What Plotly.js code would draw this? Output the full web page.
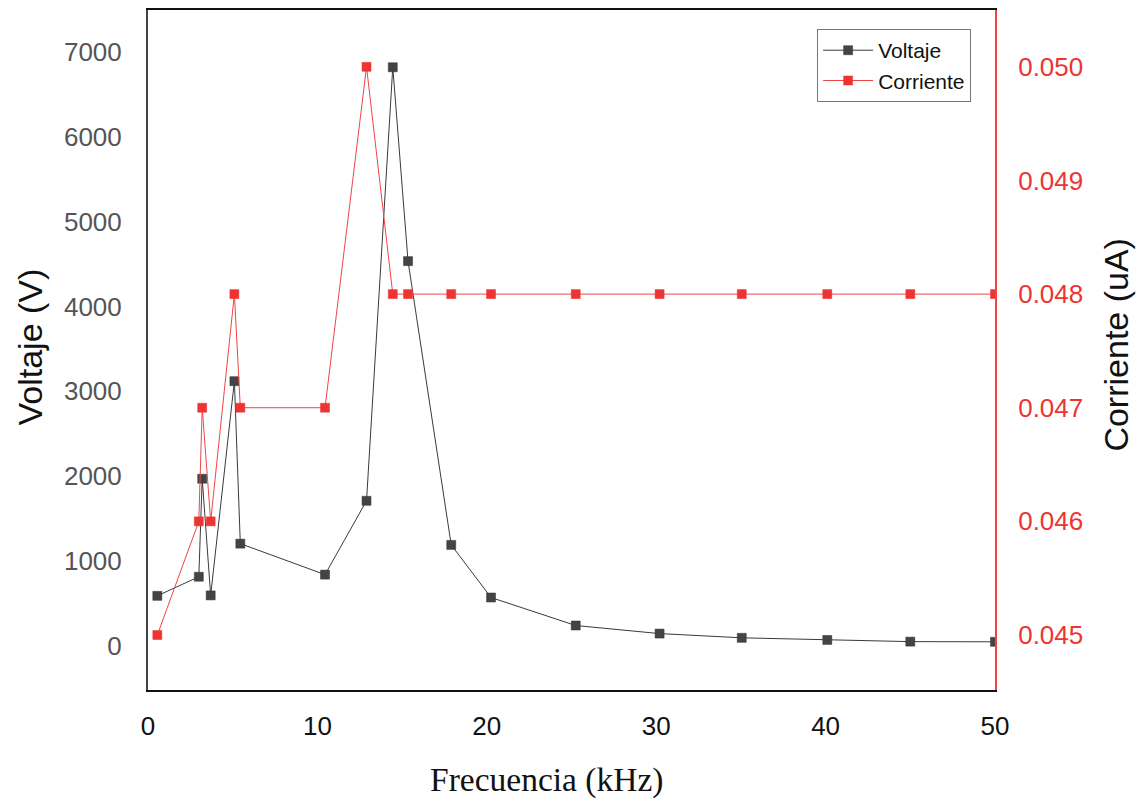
<!DOCTYPE html>
<html><head><meta charset="utf-8">
<script src="https://cdn.plot.ly/plotly-3.0.1.min.js"></script>
<style>html,body{margin:0;padding:0;background:#fff}</style>
</head><body>
<div id="chart" style="width:1139px;height:799px"></div>
<script>
const frecuencia = [0.55, 3.0, 3.2, 3.7, 5.1, 5.45, 10.45, 12.9, 14.45, 15.35, 17.9, 20.25, 25.25, 30.2, 35.05, 40.1, 45.0, 50.0];
const voltaje = [590, 815, 1970, 595, 3120, 1205, 840, 1710, 6820, 4535, 1190, 570, 240, 145, 95, 70, 50, 48];
const corriente = [0.045, 0.046, 0.047, 0.046, 0.048, 0.047, 0.047, 0.050, 0.048, 0.048, 0.048, 0.048, 0.048, 0.048, 0.048, 0.048, 0.048, 0.048];
const xTicks = [0, 10, 20, 30, 40, 50];
const yTicks = [0, 1000, 2000, 3000, 4000, 5000, 6000, 7000];
const y2Ticks = [0.045, 0.046, 0.047, 0.048, 0.049, 0.050];

const data = [
  {x: frecuencia, y: voltaje, name: 'Voltaje', type: 'scatter', mode: 'lines+markers',
   line: {color: '#3a3a3a', width: 1},
   marker: {symbol: 'square', size: 9, color: '#444444', line: {color: '#333', width: 0.5}}},
  {x: frecuencia, y: corriente, name: 'Corriente', type: 'scatter', mode: 'lines+markers', yaxis: 'y2',
   line: {color: '#f04545', width: 1},
   marker: {symbol: 'square', size: 9, color: '#ee3333', line: {color: '#ee3333', width: 0.5}}}
];

const sans = 'Liberation Sans, Arial, sans-serif';
const layout = {
  width: 1139, height: 799,
  margin: {l: 148, r: 144, t: 10, b: 109},
  paper_bgcolor: '#fff', plot_bgcolor: '#fff',
  font: {family: sans},
  showlegend: true,
  legend: {x: 0.79, y: 0.972, xanchor: 'left', yanchor: 'top', bgcolor: '#fff', itemwidth: 50,
    bordercolor: '#777', borderwidth: 1, font: {size: 21, color: '#111'}, tracegroupgap: 0},
  xaxis: {range: [0, 50], tickvals: xTicks, showgrid: false, zeroline: false,
    showline: true, linecolor: '#111', linewidth: 2, mirror: true, ticks: '',
    ticklabelstandoff: 12,
    tickfont: {size: 26, color: '#111', family: sans}},
  yaxis: {range: [-520, 7495], tickvals: yTicks, showgrid: false, zeroline: false,
    showline: true, linecolor: '#444', linewidth: 2, ticks: '',
    ticklabelstandoff: 19,
    tickfont: {size: 26, color: '#555'}},
  yaxis2: {range: [0.044516, 0.0505], tickvals: y2Ticks, tickformat: '.3f', overlaying: 'y', side: 'right',
    showgrid: false, zeroline: false, showline: true, linecolor: '#f04545', linewidth: 2, ticks: '',
    ticklabelstandoff: 16,
    tickfont: {size: 26, color: '#ee3333'}},
  annotations: [
    {text: 'Frecuencia (kHz)', xref: 'paper', yref: 'paper', x: 0.47, y: -0.132,
     xanchor: 'center', yanchor: 'middle', showarrow: false,
     font: {size: 33.5, color: '#111', family: 'Liberation Serif, Times New Roman, serif'}},
    {text: 'Voltaje (V)', xref: 'paper', yref: 'paper', x: -0.139, y: 0.504, textangle: -90,
     xanchor: 'center', yanchor: 'middle', showarrow: false,
     font: {size: 34, color: '#111', family: sans}},
    {text: 'Corriente (uA)', xref: 'paper', yref: 'paper', x: 1.1429, y: 0.508, textangle: -90,
     xanchor: 'center', yanchor: 'middle', showarrow: false,
     font: {size: 34, color: '#111', family: sans}}
  ]
};

Plotly.newPlot('chart', data, layout, {displayModeBar: false, staticPlot: true});
</script>
</body></html>
